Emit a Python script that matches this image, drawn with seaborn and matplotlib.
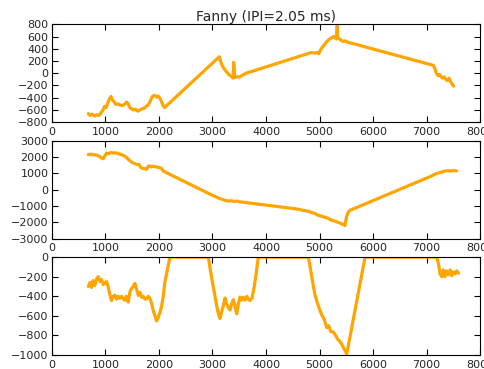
import matplotlib
matplotlib.use("Agg")
import matplotlib.pyplot as plt
import seaborn as sns
import pandas as pd

# ---- data ----
title = "Fanny (IPI=2.05 ms)"
xticks = [0, 1000, 2000, 3000, 4000, 5000, 6000, 7000, 8000]

t_top = [680, 715, 755, 795, 835, 875, 915, 955, 985, 1015, 1045, 1075, 1105, 1135, 1165, 1195,
         1235, 1275, 1315, 1355, 1395, 1425, 1455, 1485, 1525, 1565, 1605, 1645, 1685, 1725, 1765,
         1805, 1845, 1875, 1915, 1955, 1985, 2025, 2055, 2085, 2105,
         3128, 3157, 3187, 3227, 3266, 3306, 3345, 3385, 3395, 3405, 3415, 3454, 3504, 3543, 3583,
         3622, 3662,
         4849, 4908, 4948, 4987, 5017, 5056, 5096, 5136, 5175, 5224, 5264, 5294, 5313, 5330, 5340,
         5363, 5402, 5442, 5481, 5521,
         7123, 7153, 7183, 7212, 7242, 7272, 7301, 7331, 7360, 7390, 7420, 7449, 7479, 7505]
v_top = [-660, -690, -670, -700, -680, -690, -650, -600, -540, -560, -480, -420, -380, -440, -470, -510,
         -500, -520, -530, -510, -470, -500, -560, -580, -600, -590, -620, -600, -580, -570, -540,
         -510, -440, -380, -360, -390, -370, -420, -480, -540, -560,
         270, 180, 120, 60, 20, -20, -50, -80, 180, 100, -70, -60, -60, -40, -20,
         0, 10,
         340, 330, 340, 320, 380, 430, 470, 520, 550, 580, 600, 590, 560, 780, 590,
         570, 540, 520, 530, 510,
         130, 80, 0, -40, -20, -60, -80, -60, -100, -120, -80, -140, -180, -210]

t_mid = [680, 715, 774, 833, 883, 922, 959, 985, 1021, 1061, 1100, 1150, 1209, 1249, 1298, 1365,
         1400, 1430, 1466, 1506, 1545, 1583, 1625, 1664, 1704, 1743, 1770, 1800, 1835, 1862, 1893,
         1940, 1980, 2020, 2050, 2080,
         3000, 3050, 3100, 3150, 3200, 3265, 3300, 3350, 3400, 3450, 3500,
         4611, 4661, 4710, 4760, 4809, 4859, 4908, 4957, 5007, 5056, 5106, 5155, 5205, 5254, 5304,
         5343, 5383, 5420, 5450, 5475, 5490, 5510, 5540, 5580,
         7100, 7150, 7200, 7250, 7300, 7350, 7400, 7450, 7500, 7560]
v_mid = [2150, 2170, 2150, 2120, 2050, 1950, 1900, 2050, 2250, 2200, 2280, 2250, 2250, 2200, 2150, 2050,
         1950, 1850, 1750, 1650, 1600, 1550, 1550, 1350, 1300, 1280, 1240, 1450, 1450, 1400, 1440,
         1400, 1380, 1340, 1300, 1140,
         -350, -420, -500, -560, -620, -680, -700, -680, -720, -700, -740,
         -1200, -1250, -1280, -1300, -1350, -1400, -1450, -1550, -1600, -1650, -1700, -1750, -1850,
         -1900, -1950, -2000, -2050, -2100, -2150, -2200, -1900, -1600, -1350, -1250,
         850, 950, 1000, 1050, 1100, 1150, 1150, 1150, 1170, 1150]

t_bot = [680, 710, 740, 770, 800, 835, 866, 900, 930, 960, 990, 1022, 1050, 1080, 1115, 1145,
         1178, 1210, 1240, 1270, 1300, 1333, 1360, 1390, 1427, 1458, 1490, 1520, 1550, 1583, 1615,
         1645, 1675, 1705, 1740, 1770, 1800, 1830, 1860, 1893, 1925, 1956, 1985, 2019, 2050, 2080,
         2112, 2160, 2206,
         2922, 2960, 3000, 3040, 3080, 3110, 3140, 3170, 3200, 3234, 3265, 3300, 3327, 3360, 3390,
         3420, 3452, 3485, 3514, 3545, 3575, 3605, 3640, 3670, 3701, 3740, 3780, 3820, 3857,
         4791, 4830, 4870, 4916, 4960, 5009, 5050, 5090, 5134, 5170, 5210, 5259, 5300, 5340, 5380,
         5415, 5450, 5480, 5508, 5850,
         7190, 7222, 7250, 7283, 7310, 7340, 7370, 7400, 7440, 7470, 7500, 7530, 7560, 7595]
v_bot = [-300, -260, -310, -240, -290, -220, -200, -250, -230, -280, -260, -250, -300, -380, -443, -400,
         -390, -430, -400, -420, -400, -425, -440, -400, -460, -355, -320, -300, -268, -330, -390,
         -360, -410, -400, -430, -425, -400, -420, -470, -547, -600, -652, -620, -565, -500, -400,
         -250, -120, 0,
         0, -130, -260, -380, -500, -580, -627, -560, -500, -418, -480, -520, -540, -470, -435,
         -500, -580, -470, -408, -440, -410, -440, -400, -430, -443, -420, -300, -150, 0,
         0, -120, -250, -390, -470, -547, -600, -640, -721, -700, -760, -766, -800, -840, -860,
         -892, -930, -960, -990, 0,
         0, -70, -170, -200, -130, -200, -140, -180, -130, -190, -150, -170, -140, -165]

panels = [
    (t_top, v_top, (-800, 800), [-800, -600, -400, -200, 0, 200, 400, 600, 800]),
    (t_mid, v_mid, (-3000, 3000), [-3000, -2000, -1000, 0, 1000, 2000, 3000]),
    (t_bot, v_bot, (-1000, 0), [-1000, -800, -600, -400, -200, 0]),
]

sns.set_style("white", {"xtick.direction": "in", "ytick.direction": "in",
                        "xtick.top": True, "ytick.right": True,
                        "xtick.bottom": True, "ytick.left": True,
                        "axes.edgecolor": "black"})
plt.rcParams["font.family"] = ["DejaVu Sans"]

fig, axes = plt.subplots(3, 1, figsize=(4.85, 3.69), dpi=100)
fig.subplots_adjust(left=0.107, right=0.990, top=0.934, bottom=0.038, hspace=0.19)

for ax, (t, v, ylim, yt) in zip(axes, panels):
    df = pd.DataFrame({"t": t, "v": v})
    sns.lineplot(data=df, x="t", y="v", ax=ax, color="#FFA500", lw=2.3,
                 estimator=None, sort=False)
    ax.set_xlim(0, 8000)
    ax.set_ylim(*ylim)
    ax.set_xticks(xticks)
    ax.set_yticks(yt)
    ax.set_xlabel("")
    ax.set_ylabel("")
    ax.tick_params(labelsize=8, direction="in", top=True, right=True, length=4,
                   color="black")
    ax.tick_params(axis="x", pad=3.5)
    ax.tick_params(axis="y", pad=2.5)
    for s in ax.spines.values():
        s.set_visible(True)
        s.set_color("black")
        s.set_linewidth(0.8)

axes[0].set_title(title, fontsize=10, pad=2)

fig.savefig("out.png", dpi=100, facecolor="white")
